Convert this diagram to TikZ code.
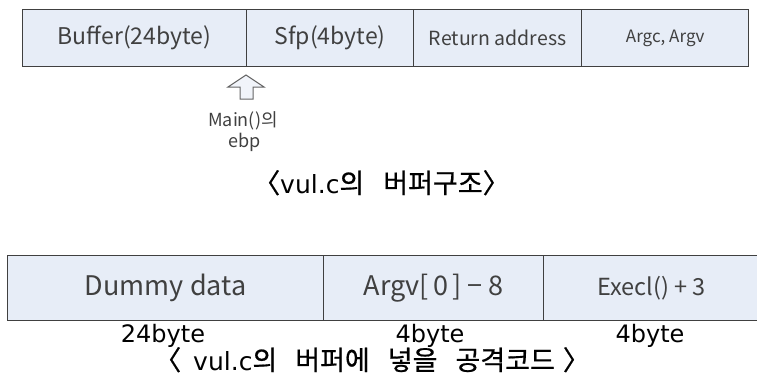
\documentclass[tikz,border=0pt]{standalone}
\usepackage{fontspec}
\setmainfont{Noto Sans CJK KR}
\newfontfamily\dvfont{DejaVu Sans}
\newfontfamily\krbold[FakeBold=0.7]{Noto Sans CJK KR}
\definecolor{cellfill}{HTML}{E7EDF7}
\definecolor{celltext}{HTML}{404040}
\definecolor{cellline}{HTML}{404040}
\newcommand{\krcap}[1]{{\krbold\fontsize{27}{29}\selectfont #1}}
\begin{document}
\begin{tikzpicture}[x=1pt,y=-1pt,
  cell/.style={draw=cellline, line width=1.3pt, fill=cellfill, inner sep=0pt,
    anchor=north west, text=celltext, font=\fontsize{23}{25}\selectfont},
  bigcell/.style={cell, font=\fontsize{27}{29}\selectfont},
  lbl/.style={inner sep=0pt, text=black, anchor=base},
  bytelbl/.style={lbl, font=\dvfont\fontsize{24}{26}\selectfont},
  captext/.style={inner sep=0pt, text=black, anchor=base west, font=\dvfont\fontsize{25}{27}\selectfont},
  uparrow/.style={draw=black!60, line width=1pt, fill=cellfill!60, line join=miter}
]
\useasboundingbox (0,0) rectangle (757,376);
% top row
\node[cell, minimum width=224pt, minimum height=57pt] (buf) at (22,9) {Buffer(24byte)};
\node[cell, minimum width=167pt, minimum height=57pt] (sfp) at (246,9) {Sfp(4byte)};
\node[cell, minimum width=168pt, minimum height=57pt, font=\fontsize{19.5}{21}\selectfont] (ret) at (413,9) {Return address};
\node[cell, minimum width=167pt, minimum height=57pt, font=\fontsize{17}{19}\selectfont] (arg) at (581,9) {Argc, Argv};
% arrow marker
\draw[uparrow] (246,75) -- (264,87) -- (253,87) -- (253,99) -- (240,99) -- (240,87) -- (228,87) -- cycle;
\node[lbl, text=celltext, font=\fontsize{18}{20}\selectfont] (mainl) at (243,126) {Main()의};
\node[lbl, text=celltext, font=\fontsize{18}{20}\selectfont] (ebpl) at (245,147) {ebp};
\node[captext] (cap1) at (253,193) {\krcap{〈}vul.c\krcap{의\hspace{19pt}버퍼구조〉}};
% bottom row
\node[bigcell, minimum width=316pt, minimum height=65pt] (dum) at (7,255) {Dummy data};
\node[bigcell, minimum width=220pt, minimum height=65pt] (argv) at (323,255) {Argv[\,0\,] − 8};
\node[bigcell, minimum width=216pt, minimum height=65pt, font=\fontsize{23.5}{25}\selectfont] (exe) at (543,255) {Execl() + 3};
\node[bytelbl] (b24) at (163,342) {24byte};
\node[bytelbl] (b4a) at (430,342) {4byte};
\node[bytelbl] (b4b) at (650,342) {4byte};
\node[captext] (cap2) at (154,370) {\krcap{〈\hspace{12pt}}vul.c\krcap{의\hspace{18pt}버퍼에\hspace{18pt}넣을\hspace{18pt}공격코드\hspace{8pt}〉}};
\end{tikzpicture}
\end{document}
